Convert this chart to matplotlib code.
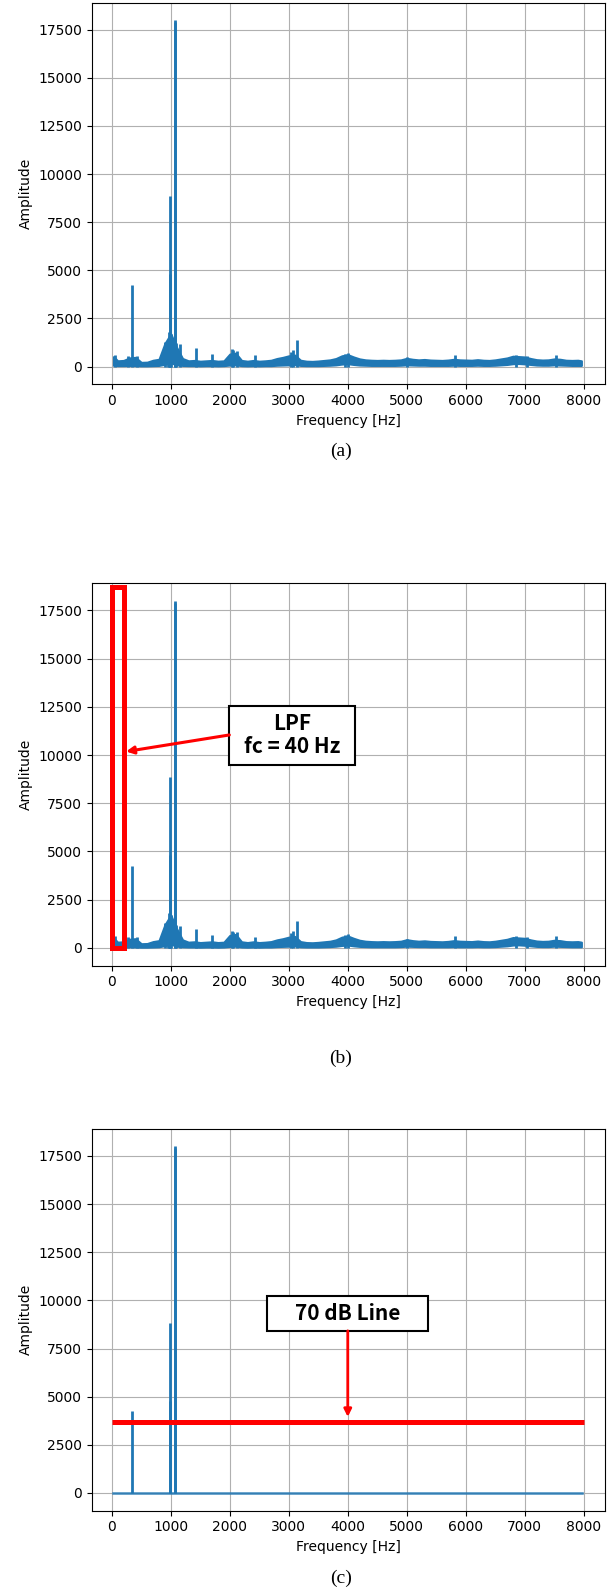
import matplotlib
matplotlib.use("Agg")
import matplotlib.pyplot as plt
from matplotlib.patches import Rectangle

# Amplitude spectrum: noise floor as a low/high band, plus discrete spikes
band_freq = [30, 100, 200, 300, 400, 500, 600, 700, 800, 900, 1000, 1100, 1200,
             1300, 1400, 1500, 1600, 1700, 1800, 1900, 2000, 2100, 2200, 2300,
             2400, 2500, 2600, 2700, 2800, 2900, 3000, 3100, 3200, 3300, 3400,
             3500, 3600, 3700, 3800, 3900, 4000, 4100, 4200, 4300, 4400, 4500,
             4600, 4700, 4800, 4900, 5000, 5100, 5200, 5300, 5400, 5500, 5600,
             5700, 5800, 5900, 6000, 6100, 6200, 6300, 6400, 6500, 6600, 6700,
             6800, 6900, 7000, 7100, 7200, 7300, 7400, 7500, 7600, 7700, 7800,
             7900, 7960]
band_hi = [520, 300, 320, 450, 480, 220, 230, 330, 380, 1200, 1700, 1000, 420,
           300, 320, 280, 300, 320, 280, 300, 650, 700, 320, 280,
           320, 280, 300, 330, 420, 480, 560, 600, 330, 280, 270,
           290, 320, 350, 420, 560, 620, 500, 400, 350, 330, 320,
           330, 320, 330, 350, 430, 380, 350, 370, 340, 330, 320,
           340, 380, 350, 340, 330, 360, 330, 320, 350, 400, 450,
           540, 520, 500, 420, 360, 340, 350, 400, 380, 330, 320,
           330, 300]
band_lo = [60, 50, 50, 60, 50, 40, 40, 50, 60, 120, 200, 90, 60,
           50, 50, 40, 50, 50, 40, 50, 80, 90, 50, 40,
           50, 40, 50, 50, 70, 80, 90, 100, 60, 50, 50,
           50, 60, 70, 90, 130, 150, 110, 80, 70, 60, 60,
           60, 60, 60, 70, 90, 80, 70, 70, 60, 60, 60,
           60, 70, 60, 60, 60, 70, 60, 60, 70, 90, 110,
           150, 160, 140, 110, 80, 70, 70, 90, 80, 70, 60,
           60, 60]

spike_freq = [60, 275, 345, 430, 905, 945, 965, 980, 988, 1005, 1068, 1075,
              1090, 1150, 1420, 1700, 2040, 2060, 2130, 2420, 3040, 3070, 3135,
              3950, 4000, 5000, 5820, 6850, 7030, 7530]
spike_amp = [620, 560, 4250, 560, 1300, 1350, 1800, 8850, 4800, 1700, 18000, 17900,
             1200, 1150, 960, 660, 900, 850, 820, 580, 780, 880, 1380,
             650, 700, 480, 600, 620, 560, 600]

# Annotation values
lpf_box_hz = 210
lpf_box_top = 18700
threshold_amp = 3700
filt_span = [25, 7965]

BLUE = "#1f77b4"
RED = "#ff0000"
ANNOT_FONT = ["Noto Sans CJK JP", "DejaVu Sans"]

W, H = 610, 1589
fig = plt.figure(figsize=(W / 100, H / 100), dpi=100)


def make_axes(top_px, bottom_px):
    left, right = 91.7, 605
    return fig.add_axes([left / W, 1 - bottom_px / H, (right - left) / W,
                         (bottom_px - top_px) / H])


def style_axes(ax):
    ax.set_xlim(-340, 8360)
    ax.set_ylim(-920, 18900)
    ax.set_xticks(range(0, 8001, 1000))
    ax.set_yticks(range(0, 17501, 2500))
    ax.grid(True, color="#b0b0b0", lw=0.8)
    ax.set_axisbelow(True)
    ax.set_xlabel("Frequency [Hz]", fontsize=10)
    ax.set_ylabel("Amplitude", fontsize=10)
    ax.tick_params(labelsize=10)


def draw_raw(ax):
    ax.fill_between(band_freq, band_lo, band_hi, color=BLUE, lw=1.5,
                    edgecolor=BLUE)
    ax.vlines(spike_freq, 0, spike_amp, color=BLUE, lw=2.0)


# (a) raw spectrum
ax_a = make_axes(2.7, 384.3)
draw_raw(ax_a)
style_axes(ax_a)

# (b) raw spectrum with LPF band marked
ax_b = make_axes(583.3, 965.7)
draw_raw(ax_b)
style_axes(ax_b)
ax_b.add_patch(Rectangle((0, 0), lpf_box_hz, lpf_box_top, fill=False,
                         ec=RED, lw=3.6, zorder=5))
ax_b.add_patch(Rectangle((1993, 9490), 2130, 3060, fc="white", ec="black",
                         lw=1.5, zorder=6))
ax_b.text(3059, 11020, "LPF\nfc = 40 Hz", ha="center", va="center",
          fontsize=15, fontweight="bold", family=ANNOT_FONT,
          linespacing=1.1, zorder=7)
ax_b.annotate("", xy=(242, 10180), xytext=(1993, 11040),
              arrowprops=dict(arrowstyle="-|>", color=RED, lw=2.2,
                              mutation_scale=11, shrinkA=0, shrinkB=0),
              zorder=6)

# (c) spectrum after keeping components above the threshold
ax_c = make_axes(1129, 1510.7)
kept_freq = [f for f, a in zip(spike_freq, spike_amp) if a > threshold_amp]
kept_amp = [a for a in spike_amp if a > threshold_amp]
ax_c.plot(filt_span, [0, 0], color=BLUE, lw=1.8, alpha=0.85)
ax_c.vlines(kept_freq, 0, kept_amp, color=BLUE, lw=2.0)
style_axes(ax_c)
ax_c.hlines(threshold_amp, 0, 8000, color=RED, lw=3.6, zorder=5)
ax_c.add_patch(Rectangle((2637, 8420), 2729, 1800, fc="white", ec="black",
                         lw=1.5, zorder=6))
ax_c.text(4000, 9320, "70 dB Line", ha="center", va="center",
          fontsize=15, fontweight="bold", family=ANNOT_FONT, zorder=7)
ax_c.annotate("", xy=(4000, threshold_amp + 250), xytext=(4000, 8420),
              arrowprops=dict(arrowstyle="-|>", color=RED, lw=2.0,
                              mutation_scale=11, shrinkA=0, shrinkB=0),
              zorder=6)

# sub-figure captions
for label, y_px in [("(a)", 451.7), ("(b)", 1058), ("(c)", 1578)]:
    fig.text(341 / W, 1 - y_px / H, label, ha="center", va="center",
             fontsize=14, family="Liberation Serif")

fig.savefig("out.png", dpi=100)
